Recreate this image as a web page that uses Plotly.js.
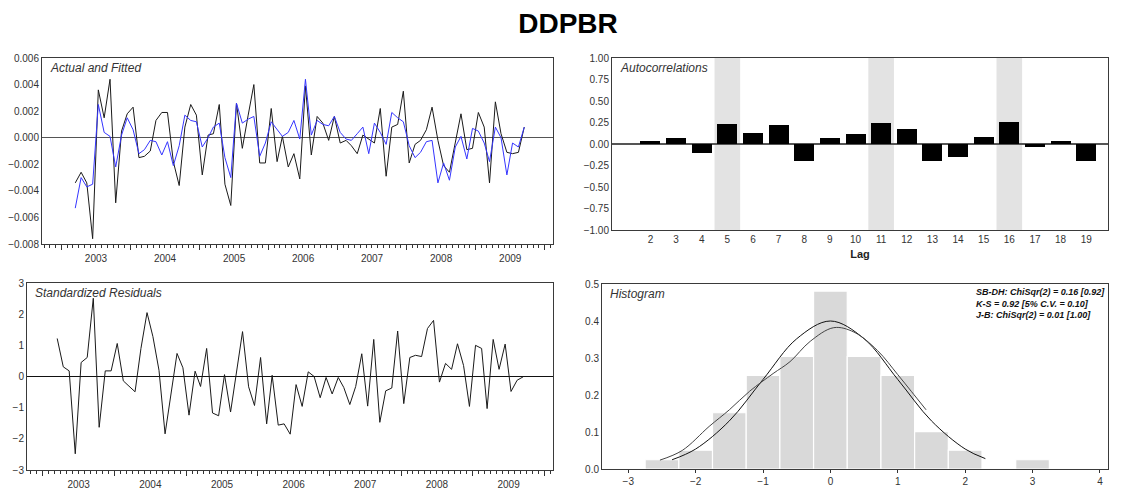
<!DOCTYPE html>
<html><head><meta charset="utf-8">
<script src="https://cdn.plot.ly/plotly-3.0.1.min.js"></script>
<style>html,body{margin:0;padding:0;background:#fff}#chart{width:1136px;height:489px}</style>
</head><body><div id="chart"></div>
<script>
// ---- data ----
const startYear = 2003, startMonth = 3, nObs = 79;
const actual = [-0.0034,-0.0026,-0.0034,-0.0076,0.0036,0.0015,0.0044,-0.0049,0.0005,0.0018,
  0.0023,-0.0015,-0.0014,-0.0010,0.0013,0.0019,0.0019,-0.0018,-0.0036,0.0008,
  0.0025,0.0017,-0.0028,0.0002,0.0003,0.0025,-0.0035,-0.0051,0.0026,-0.0008,
  0.0017,0.0040,-0.0019,-0.0019,0.0022,-0.0018,0.0001,-0.0022,-0.0012,-0.0031,
  0.0039,-0.0013,0.0016,0.0011,-0.0002,0.0016,-0.0004,-0.0002,-0.0006,-0.0012,
  0.0002,-0.0001,-0.0004,0.0022,-0.0029,0.0008,0.0010,0.0035,-0.0019,-0.0005,
  -0.0002,0.0006,0.0023,-0.0002,-0.0021,-0.0026,-0.0005,0.0018,-0.0009,-0.0008,
  0.0019,0.0008,-0.0034,0.0027,0.0003,-0.0011,-0.0012,-0.0011,0.0008];
const fitted = [-0.0053,-0.0030,-0.0037,-0.0035,0.0025,0.0004,0.0001,-0.0022,0.0002,0.0015,
  0.0006,-0.0012,-0.0009,-0.0002,-0.0003,-0.0013,-0.0003,-0.0021,-0.0006,0.0017,
  0.0013,0.0012,-0.0007,0.0000,0.0008,0.0011,-0.0015,-0.0030,0.0026,0.0011,
  0.0014,0.0016,-0.0014,-0.0004,0.0012,0.0006,0.0001,0.0004,0.0013,-0.0001,
  0.0044,0.0002,0.0013,0.0010,0.0009,0.0016,0.0004,-0.0001,-0.0002,0.0003,
  0.0008,-0.0012,0.0011,0.0004,-0.0005,0.0019,0.0015,0.0012,-0.0006,-0.0015,
  -0.0011,-0.0003,-0.0002,-0.0034,-0.0019,-0.0032,-0.0007,0.0001,-0.0016,0.0007,
  0.0005,-0.0004,-0.0018,0.0008,0.0000,-0.0028,-0.0004,-0.0007,0.0008];
const residuals = [1.22,0.31,0.18,-2.48,0.45,0.61,2.51,-1.63,0.18,0.18,
  1.06,-0.14,-0.31,-0.49,0.9,2.05,1.28,0.2,-1.84,-0.55,
  0.74,0.28,-1.24,0.17,-0.32,0.9,-1.17,-1.26,0.06,-1.14,
  0.12,1.44,-0.33,-0.93,0.61,-1.52,0.04,-1.56,-1.52,-1.85,
  -0.26,-0.96,0.15,0.0,-0.68,-0.03,-0.56,-0.03,-0.35,-0.9,
  -0.32,0.73,-0.95,1.19,-1.47,-0.46,-0.37,1.46,-0.87,0.61,
  0.68,0.64,1.54,1.8,-0.18,0.42,0.23,1.05,0.35,-0.96,
  1.0,0.9,-1.03,1.19,0.23,1.04,-0.48,-0.12,-0.01];

const acfLags = [2,3,4,5,6,7,8,9,10,11,12,13,14,15,16,17,18,19];
const acfValues = [0.03,0.07,-0.11,0.23,0.13,0.22,-0.20,0.07,0.12,0.24,0.17,-0.20,-0.15,0.085,0.255,-0.035,0.04,-0.20];
const shadedLags = [5, 11, 16];

const histCenters = [-2.5,-2.0,-1.5,-1.0,-0.5,0.0,0.5,1.0,1.5,2.0,2.5,3.0];
const histDensity = [0.025,0.051,0.152,0.253,0.304,0.481,0.304,0.253,0.101,0.051,0,0.025];
const normX = [-2.35,-2.0,-1.5,-1.0,-0.5,0.0,0.5,1.0,1.5,2.0,2.3];
const normY = [0.025,0.054,0.13,0.242,0.352,0.40,0.352,0.242,0.13,0.054,0.028];
const kdeX = [-2.53,-2.2,-1.8,-1.5,-1.2,-0.85,-0.6,-0.3,0.05,0.35,0.7,1.0,1.2,1.42];
const kdeY = [0.024,0.05,0.115,0.16,0.21,0.258,0.29,0.345,0.382,0.37,0.32,0.255,0.21,0.16];

const statLines = ['SB-DH: ChiSqr(2) = 0.16 [0.92]','K-S = 0.92 [5% C.V. = 0.10]','J-B: ChiSqr(2) = 0.01 [1.00]'];

// ---- build ----
const months = [];
for (let i = 0; i < nObs; i++) {
  const m0 = startMonth - 1 + i;
  const y = startYear + Math.floor(m0 / 12);
  const m = (m0 % 12) + 1;
  months.push(y + '-' + String(m).padStart(2, '0') + '-15');
}

const W = 1136, H = 489;
const px = (a, b) => [a / W, b / W];
const py = (top, bot) => [1 - bot / H, 1 - top / H];
const FONT = 'Liberation Sans, Arial, sans-serif';
const frame = {showline: true, mirror: true, linecolor: '#3a3a3a', linewidth: 1, showgrid: false};
const tickF = {family: FONT, size: 10, color: '#333'};

const dateAxis = (dom, anchor, range) => Object.assign({
  domain: dom, anchor: anchor, type: 'date', range: range,
  tick0: '2003-01-01', dtick: 'M12', ticklabelmode: 'period', tickformat: '%Y',
  ticks: 'outside', ticklen: 5, tickcolor: '#333', tickfont: tickF, zeroline: false,
  minor: {dtick: 'M1', ticks: 'outside', ticklen: 3, tickcolor: '#333', showgrid: false}
}, frame);

const traces = [
  {x: months, y: actual, type: 'scatter', mode: 'lines', line: {color: '#1a1a1a', width: 1}, xaxis: 'x', yaxis: 'y', hoverinfo: 'skip'},
  {x: months, y: fitted, type: 'scatter', mode: 'lines', line: {color: '#3535ff', width: 1}, xaxis: 'x', yaxis: 'y', hoverinfo: 'skip'},
  {x: acfLags, y: acfValues, type: 'bar', width: 0.78, marker: {color: '#000'}, xaxis: 'x2', yaxis: 'y2'},
  {x: months, y: residuals, type: 'scatter', mode: 'lines', line: {color: '#1a1a1a', width: 1}, xaxis: 'x3', yaxis: 'y3'},
  {x: histCenters, y: histDensity, type: 'bar', width: 0.5, marker: {color: '#d9d9d9', line: {color: '#fff', width: 1.2}}, xaxis: 'x4', yaxis: 'y4'},
  {x: normX, y: normY, type: 'scatter', mode: 'lines', line: {color: '#111', width: 1, shape: 'spline'}, xaxis: 'x4', yaxis: 'y4'},
  {x: kdeX, y: kdeY, type: 'scatter', mode: 'lines', line: {color: '#444', width: 1, shape: 'spline'}, xaxis: 'x4', yaxis: 'y4'}
];

const shapes = shadedLags.map(l => ({
  type: 'rect', xref: 'x2', yref: 'y2 domain', x0: l - 0.5, x1: l + 0.5, y0: 0, y1: 1,
  fillcolor: '#e3e3e3', line: {width: 0}, layer: 'below'
}));

const panelTitle = (text, xr, yr) => ({
  text: text, xref: xr + ' domain', yref: yr + ' domain', x: 0.012, y: 0.995,
  xanchor: 'left', yanchor: 'top', showarrow: false,
  font: {family: FONT, size: 12, color: '#333', style: 'italic'}
});

const layout = {
  width: W, height: H, margin: {l: 0, r: 0, t: 0, b: 0},
  paper_bgcolor: '#fff', plot_bgcolor: '#fff', showlegend: false, bargap: 0,
  font: {family: FONT, color: '#333'},
  title: {text: '<b>DDPBR</b>', x: 0.5, xanchor: 'center', y: 1 - 23 / H, yanchor: 'middle', font: {family: FONT, size: 28, color: '#000'}},
  xaxis: dateAxis(px(42, 553), 'y', ['2002-09-20', '2010-02-14']),
  yaxis: Object.assign({domain: py(58, 244), anchor: 'x', range: [-0.008, 0.006], dtick: 0.002, tickformat: '.3f', tickfont: tickF, ticks: '',
    zeroline: true, zerolinecolor: '#555', zerolinewidth: 1.5}, frame),
  xaxis2: Object.assign({domain: px(612, 1108), anchor: 'y2', range: [0.5, 19.85], tickvals: acfLags, ticks: '', tickfont: tickF,
    zeroline: false, title: {text: '<b>Lag</b>', font: {family: FONT, size: 11, color: '#222'}, standoff: 6}}, frame),
  yaxis2: Object.assign({domain: py(58, 230), anchor: 'x2', range: [-1, 1], dtick: 0.25, tickformat: '.2f', tickfont: tickF, ticks: '',
    zeroline: true, zerolinecolor: '#555', zerolinewidth: 1.5}, frame),
  xaxis3: dateAxis(px(27, 553), 'y3', ['2002-10-12', '2010-02-14']),
  yaxis3: Object.assign({domain: py(283, 470), anchor: 'x3', range: [-3, 3], dtick: 1, tickfont: tickF, ticks: '',
    zeroline: true, zerolinecolor: '#111', zerolinewidth: 1}, frame),
  xaxis4: Object.assign({domain: px(602, 1108), anchor: 'y4', range: [-3.39, 4.12], dtick: 1, tickfont: tickF, ticks: 'outside', ticklen: 3, tickcolor: '#333', zeroline: false}, frame),
  yaxis4: Object.assign({domain: py(284, 469), anchor: 'x4', range: [0, 0.5], dtick: 0.1, tickformat: '.1f', tickfont: tickF, ticks: '', zeroline: false}, frame),
  shapes: shapes,
  annotations: [
    panelTitle('Actual and Fitted', 'x', 'y'),
    panelTitle('Autocorrelations', 'x2', 'y2'),
    panelTitle('Standardized Residuals', 'x3', 'y3'),
    panelTitle('Histogram', 'x4', 'y4'),
    {text: statLines.join('<br>'), xref: 'paper', yref: 'paper', x: 974 / W, y: 1 - 285 / H, xanchor: 'left', yanchor: 'top', align: 'left', showarrow: false,
      font: {family: 'Liberation Sans Narrow, Arial Narrow, sans-serif', size: 9, color: '#111', weight: 'bold', style: 'italic'}}
  ]
};

Plotly.newPlot('chart', traces, layout, {staticPlot: true, displayModeBar: false});
</script>
</body></html>
